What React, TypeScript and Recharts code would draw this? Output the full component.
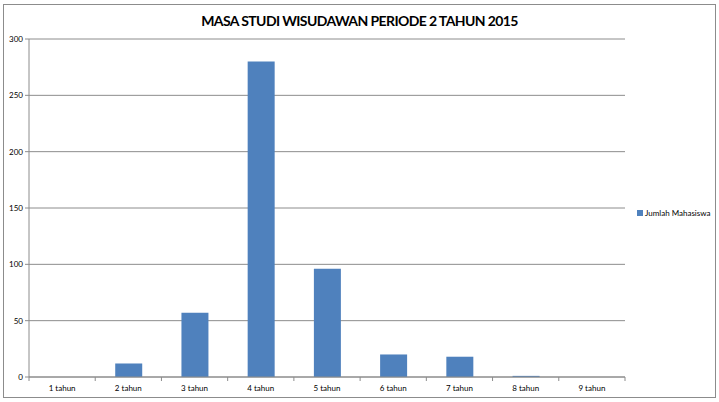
import React from "react";
import { BarChart, Bar, XAxis, YAxis, CartesianGrid, Legend } from "recharts";

const categories = ["1 tahun", "2 tahun", "3 tahun", "4 tahun", "5 tahun", "6 tahun", "7 tahun", "8 tahun", "9 tahun"];
const jumlahMahasiswa = [0, 12, 57, 280, 96, 20, 18, 1, 0];
const yTicks = [0, 50, 100, 150, 200, 250, 300];
const seriesName = "Jumlah Mahasiswa";
const title = "MASA STUDI WISUDAWAN PERIODE 2 TAHUN 2015";

const data = categories.map((c, i) => ({ name: c, value: jumlahMahasiswa[i] }));

const FONT = "Lato, 'Liberation Sans', sans-serif";
const AXIS = "#8c8c8c";

const XTick = (props: any) => {
  const { x, y, payload, index, visibleTicksCount } = props;
  const off = payload.offset || 0;
  return (
    <g>
      <line x1={x - off} x2={x - off} y1={y - 8} y2={y - 4} stroke={AXIS} />
      {index === visibleTicksCount - 1 && (
        <line x1={x + off} x2={x + off} y1={y - 8} y2={y - 4} stroke={AXIS} />
      )}
      <text x={x} y={y + 6} textAnchor="middle" fontSize={8} fill="#000" fontFamily={FONT}>
        {payload.value}
      </text>
    </g>
  );
};

const LegendContent = () => (
  <div style={{ display: "flex", alignItems: "center", fontFamily: FONT, fontSize: 8, color: "#000" }}>
    <span style={{ width: 6, height: 6, background: "#4f81bd", display: "inline-block", marginRight: 2 }} />
    <span>{seriesName}</span>
  </div>
);

export default function App() {
  return (
    <div style={{ position: "absolute", left: 0, top: 0, width: 719, height: 402, background: "#fff" }}>
      <div
        style={{
          position: "absolute",
          left: 3,
          top: 4,
          width: 711,
          height: 392,
          border: "1px solid #8c8c8c",
        }}
      />
      <div
        style={{
          position: "absolute",
          left: 0,
          top: 12,
          width: 719,
          textAlign: "center",
          fontFamily: FONT,
          fontWeight: "bold",
          fontSize: 14,
          letterSpacing: -0.6,
          color: "#000",
        }}
      >
        {title}
      </div>
      <div style={{ position: "absolute", left: 0, top: 0 }}>
        <BarChart width={719} height={402} data={data} margin={{ top: 39, right: 94, left: 0, bottom: 0 }}>
          <CartesianGrid vertical={false} stroke={AXIS} strokeWidth={1} />
          <XAxis
            dataKey="name"
            height={25}
            tickLine={false}
            axisLine={{ stroke: AXIS }}
            tick={<XTick />}
            interval={0}
          />
          <YAxis
            width={29}
            domain={[0, 300]}
            ticks={yTicks}
            interval={0}
            axisLine={{ stroke: AXIS }}
            tickLine={{ stroke: AXIS }}
            tickSize={4}
            tick={{ fontSize: 8, fill: "#000", fontFamily: FONT }}
          />
          <Legend
            layout="horizontal"
            verticalAlign="middle"
            align="center"
            wrapperStyle={{ left: 637, top: 208, width: 90 }}
            content={<LegendContent />}
          />
          <Bar dataKey="value" name={seriesName} fill="#4f81bd" isAnimationActive={false} barSize={27} />
        </BarChart>
      </div>
    </div>
  );
}
